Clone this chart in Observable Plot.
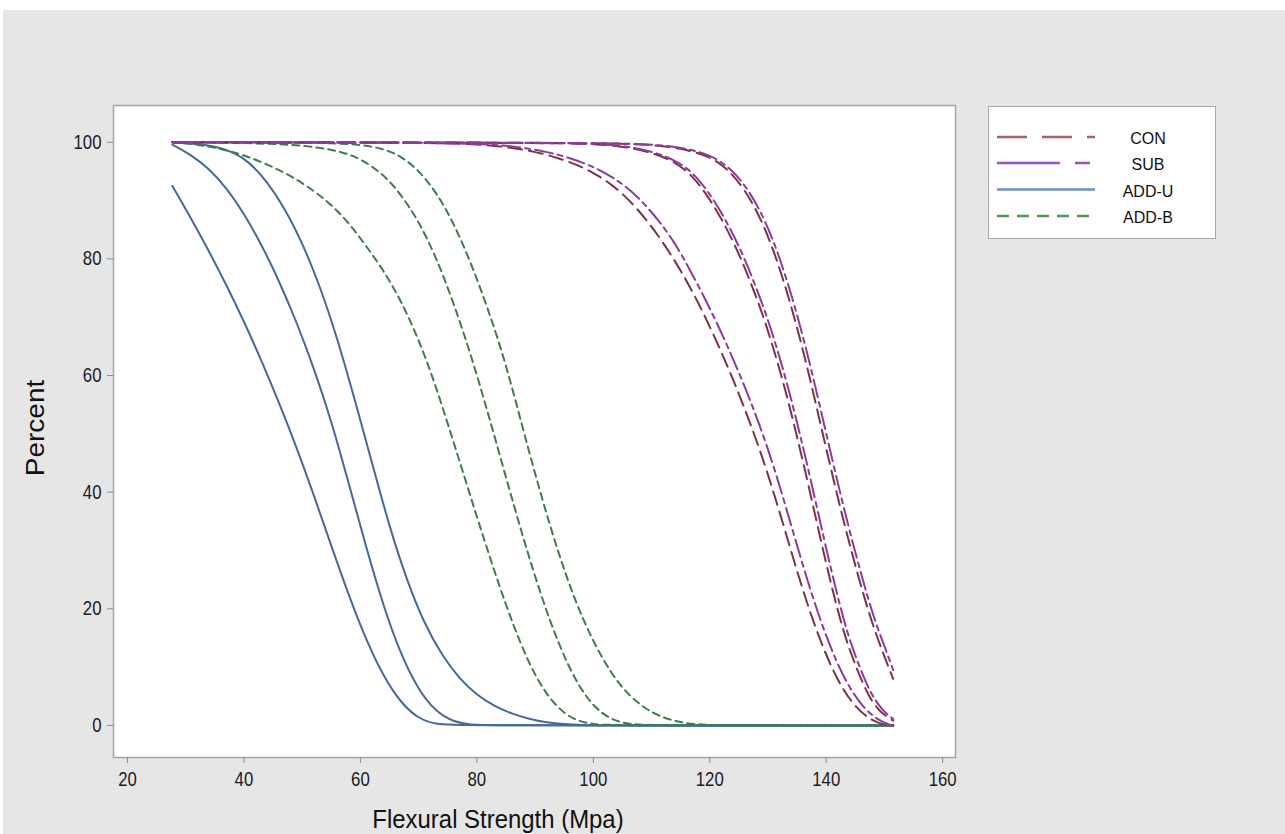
<!DOCTYPE html>
<html>
<head>
<meta charset="utf-8">
<script src="https://cdn.jsdelivr.net/npm/d3@7"></script>
<script src="https://cdn.jsdelivr.net/npm/@observablehq/plot@0.6"></script>
<style>
  html, body { margin: 0; padding: 0; background: #ffffff; }
  #wrap { position: relative; width: 1285px; height: 834px; overflow: hidden; }
  #bg { position: absolute; left: 3px; top: 10px; right: 0; bottom: 0; background: #e6e6e6; }
  #chart { position: absolute; left: 0; top: 0; }
  .title { position: absolute; font-family: "Liberation Sans", Arial, sans-serif; color: #111; white-space: nowrap; }
  #xtitle { left: 498px; top: 819px; transform: translate(-50%, -50%) scale(0.92, 1); font-size: 26px; }
  #ytitle { left: 36px; top: 428px; transform: translate(-50%, -50%) rotate(-90deg) scale(1, 0.9); font-size: 28px; }
  #legend { position: absolute; left: 988px; top: 106px; width: 226px; height: 131px; background: #fff; border: 1.5px solid #a8a8a8; }
</style>
</head>
<body>
<div id="wrap">
  <div id="bg"></div>
  <div id="chart"></div>
  <div class="title" id="xtitle">Flexural Strength (Mpa)</div>
  <div class="title" id="ytitle">Percent</div>
  <div id="legend"></div>
</div>
<script>
// ---------- data ----------
const groups = ["CON", "SUB", "ADD-U", "ADD-B"];
const xTicks = [20, 40, 60, 80, 100, 120, 140, 160];
const yTicks = [0, 20, 40, 60, 80, 100];

// ADD-U (blue, solid)
const addU1x = [27.7, 31, 34, 37, 40, 43, 46, 49, 52, 55, 58, 61, 64, 67, 70, 73, 76, 151.5];
const addU1y = [92.5, 86.8, 81.3, 75.5, 69.3, 62.6, 55.4, 47.8, 39.5, 30.8, 22.3, 14.6, 8.3, 3.8, 1.1, 0.2, 0, 0];
const addU2x = [27.7, 31, 34, 37, 40, 43, 46, 49, 52, 55, 58, 61, 64, 67, 70, 73, 76, 79, 82, 151.5];
const addU2y = [99.6, 97.8, 95.5, 92.2, 87.8, 82.5, 76.3, 69.3, 61.3, 52.3, 41.5, 30.5, 20.3, 12, 6, 2.3, 0.6, 0.1, 0, 0];
const addU3x = [27.7, 32, 35, 38, 41, 44, 47, 50, 53, 56, 59, 62, 65, 68, 71, 74, 77, 80, 83, 86, 89, 92, 95, 98, 101, 151.5];
const addU3y = [100, 99.7, 99.3, 98.4, 96.6, 93.2, 88.7, 82.8, 75.5, 66.5, 56, 45, 34, 24.8, 17.4, 12, 8, 5.2, 3.3, 2, 1.1, 0.5, 0.2, 0.05, 0, 0];

// ADD-B (green, dashed)
const addB1x = [27.7, 32, 36, 40, 44, 48, 52, 55, 58, 61, 64, 67, 70, 72.5, 75, 77.5, 80, 82.5, 85, 87.5, 90, 92.5, 95, 97.5, 100, 103, 151.5];
const addB1y = [100, 99.6, 98.9, 97.8, 96.2, 94.3, 91.7, 89.3, 86.2, 82.2, 78, 72.8, 66.2, 59.5, 51.8, 43.8, 35.8, 28, 20.6, 14, 8.5, 4.6, 2, 0.7, 0.2, 0, 0];
const addB2x = [27.7, 40, 48, 53, 57, 60, 64, 67, 70, 73, 76, 79, 82, 85, 88, 91, 94, 97, 100, 103, 106, 110, 151.5];
const addB2y = [100, 99.9, 99.6, 99.1, 98.3, 97.2, 94.5, 91, 86.5, 80.3, 72.5, 63.5, 53.3, 42.5, 32, 22.3, 14, 7.5, 3.2, 1, 0.2, 0, 0];
const addB3x = [27.7, 50, 55, 60, 64, 67, 70, 73, 76, 79, 82, 85, 88, 91, 94, 97, 100, 103, 106, 109, 112, 115, 118, 122, 151.5];
const addB3y = [100, 99.95, 99.85, 99.6, 98.9, 97.6, 95.2, 91.5, 86.2, 79.3, 71.2, 62, 50.5, 39.5, 29.5, 21, 14.3, 9, 5.2, 2.8, 1.3, 0.5, 0.15, 0, 0];

// CON (brown, long dash)
const con1x = [27.7, 70, 80, 85, 90, 94, 97, 100, 103, 106, 109, 112, 115, 118, 121, 124, 127, 130, 133, 136, 139, 142, 145, 148, 150, 151.5];
const con1y = [100, 99.95, 99.7, 99.2, 98.4, 97.3, 96.2, 94.8, 92.9, 90.3, 86.9, 82.8, 78.1, 72.6, 66.3, 59.4, 51.8, 43.2, 33.2, 23, 14.3, 7.5, 3, 0.7, 0.1, 0];
const con2x = [27.7, 95, 100, 105, 110, 114, 117, 119.5, 122, 125, 127, 129, 131, 133, 135, 137, 139, 141, 143, 145, 147, 149, 151.5];
const con2y = [100, 99.9, 99.7, 99.3, 98.3, 96.7, 94.3, 91, 87, 81, 76, 70.8, 64.5, 57.5, 49.5, 41, 32, 23.5, 15.8, 10.3, 5.5, 2.4, 0.8];
const con3x = [27.7, 100, 110, 115, 120, 123, 126, 129, 131.5, 134, 136.5, 138.6, 140.8, 143.1, 145.5, 147.7, 149.9, 151.5];
const con3y = [100, 99.95, 99.6, 99, 97.6, 95.5, 92, 86.5, 80, 72, 62.5, 53.5, 44, 34.5, 25.5, 18, 12, 8];

// SUB (purple, dash-dot)
const sub1x = [27.7, 70, 82, 87, 92, 96, 99, 102, 105, 108, 111, 114, 116.6, 119.5, 122.5, 125.5, 128.5, 131.4, 134.3, 137.3, 140.3, 143.3, 146.3, 149.2, 151, 151.5];
const sub1y = [100, 99.95, 99.7, 99.2, 98.4, 97.3, 96.2, 94.8, 92.9, 90.3, 86.9, 82.8, 78.1, 72.6, 66.3, 59.4, 51.8, 43.2, 33.2, 23, 14.3, 7.5, 3, 0.7, 0.1, 0];
const sub2x = [27.7, 96, 101, 106, 110.6, 114.6, 117.6, 120.1, 122.6, 125.6, 127.6, 129.6, 131.6, 133.6, 135.6, 137.6, 139.6, 141.6, 143.6, 145.6, 147.6, 149.6, 151.5];
const sub2y = [100, 99.9, 99.7, 99.3, 98.3, 96.7, 94.3, 91, 87, 81, 76, 70.8, 64.5, 57.5, 49.5, 41, 32, 23.5, 15.8, 10.3, 5.5, 2.6, 1.1];
const sub3x = [27.7, 101, 111, 116, 120.6, 123.6, 126.6, 129.6, 132.1, 134.6, 137.1, 139.2, 141.4, 143.7, 146.1, 148.3, 150.3, 151.5];
const sub3y = [100, 99.95, 99.6, 99, 97.6, 95.5, 92, 86.5, 80, 72, 62.5, 53.5, 44, 34.5, 25.5, 18, 12.8, 9.5];

// ---------- styles ----------
const plotColors = {"CON": "#7c3444", "SUB": "#8d3a9e", "ADD-U": "#46699c", "ADD-B": "#3d7d4d"};
const plotDash = {"CON": "14,7", "SUB": "18,5,5,5", "ADD-U": null, "ADD-B": "7,5"};
const legColors = {"CON": "#a0666a", "SUB": "#a050bf", "ADD-U": "#6d90c2", "ADD-B": "#4f9a5c"};
const legDash = {"CON": "30,15", "SUB": "63,15,15,15", "ADD-U": null, "ADD-B": "12,8"};

const curves = [
  ["ADD-U", 1, addU1x, addU1y], ["ADD-U", 2, addU2x, addU2y], ["ADD-U", 3, addU3x, addU3y],
  ["ADD-B", 1, addB1x, addB1y], ["ADD-B", 2, addB2x, addB2y], ["ADD-B", 3, addB3x, addB3y],
  ["CON", 1, con1x, con1y], ["CON", 2, con2x, con2y], ["CON", 3, con3x, con3y],
  ["SUB", 1, sub1x, sub1y], ["SUB", 2, sub2x, sub2y], ["SUB", 3, sub3x, sub3y]
];
const rows = curves.flatMap(([g, k, xs, ys]) => xs.map((x, i) => ({group: g, id: g + "-" + k, x, y: ys[i]})));

const drawOrder = ["ADD-U", "ADD-B", "CON", "SUB"];
const lineMarks = drawOrder.map(g => Plot.line(rows.filter(d => d.group === g), {
  x: "x", y: "y", z: "id", stroke: plotColors[g], strokeWidth: 2,
  strokeDasharray: plotDash[g] || undefined, curve: "basis"
}));

const chart = Plot.plot({
  width: 1285, height: 834,
  marginLeft: 113, marginRight: 330, marginTop: 105, marginBottom: 77,
  style: {background: "transparent", fontFamily: "'Liberation Sans', Arial, sans-serif", fontSize: "20px", color: "#1c1c1c"},
  x: {domain: [17.6, 162.2]},
  y: {domain: [-5.5, 106.3]},
  marks: [
    Plot.frame({fill: "white", stroke: "#a4a4a4", strokeWidth: 1.5}),
    ...lineMarks,
    Plot.axisX({ticks: xTicks, tickSize: 6, tickPadding: 8, stroke: "#8c8c8c", fill: "#1c1c1c", label: null, fontSize: 20}),
    Plot.axisY({ticks: yTicks, tickSize: 6, tickPadding: 6, stroke: "#8c8c8c", fill: "#1c1c1c", label: null, fontSize: 20})
  ]
});
document.getElementById("chart").appendChild(chart);

// narrow the tick labels (reference uses a condensed face)
d3.select(chart).selectAll('g[aria-label$="tick label"] text').each(function() {
  const x = +this.getAttribute("x") || 0, y = +this.getAttribute("y") || 0;
  const t = this.getAttribute("transform") || "";
  this.setAttribute("transform", `${t} translate(${x},${y}) scale(0.84,1) translate(${-x},${-y})`);
});

// ---------- legend ----------
const leg = d3.select("#legend").append("svg").attr("width", 226).attr("height", 131);
const rowY = [30, 56, 82.5, 109];
groups.forEach((g, i) => {
  leg.append("line").attr("x1", 8).attr("x2", 106).attr("y1", rowY[i]).attr("y2", rowY[i])
    .attr("stroke", legColors[g]).attr("stroke-width", 2.5)
    .attr("stroke-dasharray", legDash[g] || null);
  leg.append("text").attr("x", 159).attr("y", rowY[i] + 1.5).attr("dy", "0.35em")
    .attr("text-anchor", "middle").attr("font-family", "'Liberation Sans', Arial, sans-serif")
    .attr("font-size", 16).attr("fill", "#111").text(g);
});
</script>
</body>
</html>
